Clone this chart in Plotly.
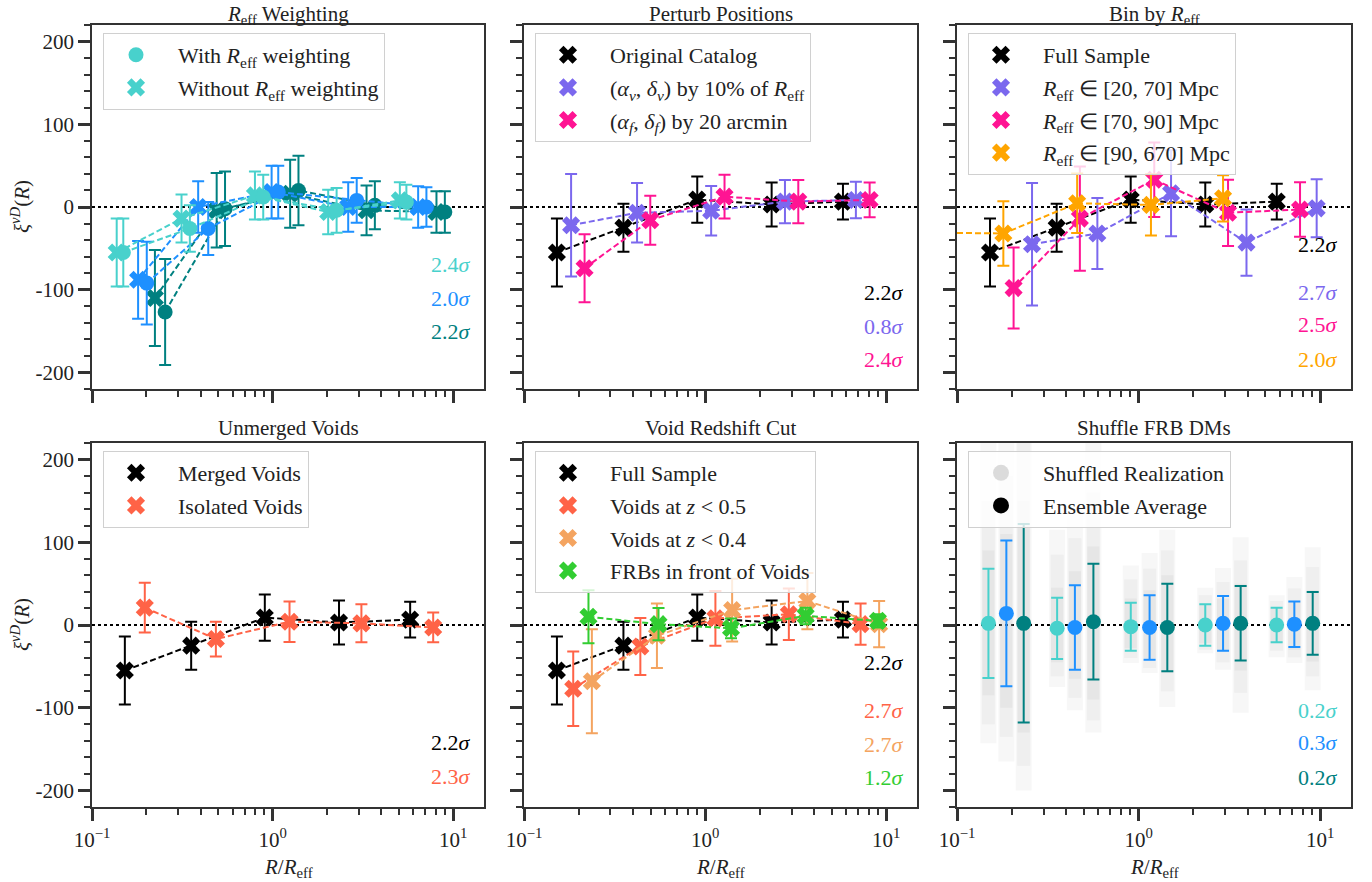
import plotly.graph_objects as go

W, H = 1372, 882
FONT = "Liberation Serif"

# ---------------- colours ----------------
TURQ = "#48D1CC"
BLUE = "#1E90FF"
TEAL = "#008080"
PURPLE = "#7B68EE"
PINK = "#FF1493"
ORANGE = "#FFA500"
TOMATO = "#FF6347"
SANDY = "#F4A460"
GREEN = "#32CD32"
BLACK = "#000000"

# ---------------- data ----------------
# shared full sample / original catalogue
full_x = [0.152, 0.354, 0.905, 2.33, 5.77]
full_y = [-55, -25, 9, 3, 6.5]
full_err = [41, 29, 28, 26.5, 21.5]

# Panel 1: R_eff weighting (circles = with weighting, X = without)
w_turq_x = [0.149, 0.348, 0.887, 2.26, 5.5]
w_turq_y = [-55, -26, 12, -4, 6]
w_turq_err = [41, 28, 27, 27, 21]
w_blue_x = [0.201, 0.440, 1.074, 2.92, 7.1]
w_blue_y = [-92, -26, 18, 8, 0]
w_blue_err = [50, 32, 32, 27, 24]
w_teal_x = [0.254, 0.545, 1.39, 3.68, 8.98]
w_teal_y = [-127, -2, 20, 2, -6]
w_teal_err = [64, 45, 42, 29, 25]
nw_turq_x = [0.137, 0.313, 0.798, 2.03, 5.06]
nw_turq_y = [-55, -14, 14, -6, 8]
nw_turq_err = [41, 29, 29, 27, 22]
nw_blue_x = [0.180, 0.387, 0.987, 2.62, 6.39]
nw_blue_y = [-88, 0, 18, 0, 0]
nw_blue_err = [47, 31, 32, 30, 25]
nw_teal_x = [0.223, 0.490, 1.25, 3.31, 8.07]
nw_teal_y = [-110, -4, 16, -4, -6]
nw_teal_err = [58, 45, 41, 30, 25]

# Panel 2: perturb positions
pv_x = [0.182, 0.421, 1.08, 2.76, 6.8]
pv_y = [-22, -7, -4.5, 6.5, 8.5]
pv_err = [62, 36, 30, 26, 22]
pf_x = [0.216, 0.498, 1.28, 3.27, 8.1]
pf_y = [-74, -16, 12.5, 6.5, 8.5]
pf_err = [41, 29.5, 26.5, 26, 21]

# Panel 3: bin by R_eff
b1_x = [0.259, 0.593, 1.51, 3.93, 9.57]
b1_y = [-45, -32, 16.5, -43, -1.6]
b1_err = [74, 43, 52, 40, 35]
b2_x = [0.205, 0.475, 1.22, 3.11, 7.75]
b2_y = [-98, -14, 33, -7, -3]
b2_err = [49, 63, 45, 40, 33]
b3_x = [0.071, 0.180, 0.459, 1.17, 2.92]
b3_y = [-31, -32, 4.5, 2.5, 10.5]
b3_err = [35, 39, 36, 37, 28]

# Panel 4: unmerged voids
iso_x = [0.196, 0.485, 1.24, 3.10, 7.74]
iso_y = [21, -17, 4, 2, -3]
iso_err = [30, 21, 24.5, 23, 18]

# Panel 5: void redshift cut
z5_x = [0.187, 0.439, 1.14, 2.90, 7.22]
z5_y = [-77, -26, 8, 13, 1]
z5_err = [45, 34.5, 33, 31, 25]
z4_x = [0.237, 0.542, 1.41, 3.67, 9.14]
z4_y = [-68, -13, 18, 29, 1]
z4_err = [63, 39, 38, 34, 28]
fr_x = [0.227, 0.553, 1.39, 3.59, 9.0]
fr_y = [10, 1, -4, 11, 5]
fr_err = [32, 19.5, 12, 10, 8]

# Panel 6: shuffle FRB DMs (ensemble averages)
s_turq_x = [0.149, 0.356, 0.906, 2.33, 5.76]
s_turq_y = [2, -4, -2, 0, 0]
s_turq_err = [66, 37, 29, 25, 21]
s_blue_x = [0.187, 0.446, 1.15, 2.92, 7.21]
s_blue_y = [14, -3, -3, 2, 1]
s_blue_err = [88, 51, 39, 33, 27.5]
s_teal_x = [0.233, 0.564, 1.44, 3.65, 9.1]
s_teal_y = [2, 4, -3, 2, 2]
s_teal_err = [120, 70, 53, 45, 38]
# extent of the cloud of shuffled realizations (outer, middle and dense core)
cloud_hi_turq = [230, 115, 72, 45, 36]
cloud_lo_turq = [-143, -75, -46, -34, -39]
cloud_hi_blue = [230, 139, 87, 69, 58]
cloud_lo_blue = [-165, -103, -58, -54, -46]
cloud_hi_teal = [230, 230, 115, 106, 94]
cloud_lo_teal = [-200, -130, -99, -106, -79]
mid_hi_turq = [150, 85, 55, 36, 29]
mid_lo_turq = [-120, -62, -40, -30, -31]
mid_hi_blue = [180, 105, 68, 52, 44]
mid_lo_blue = [-135, -88, -52, -45, -39]
mid_hi_teal = [220, 160, 90, 78, 70]
mid_lo_teal = [-170, -115, -80, -82, -62]
core_hi_turq = [90, 45, 32, 24, 20]
core_lo_turq = [-85, -45, -28, -22, -22]
core_hi_blue = [110, 65, 42, 32, 28]
core_lo_blue = [-100, -65, -40, -32, -30]
core_hi_teal = [150, 95, 60, 50, 42]
core_lo_teal = [-130, -90, -58, -55, -44]

titles = ["<i>R</i><sub>eff</sub> Weighting", "Perturb Positions", "Bin by <i>R</i><sub>eff</sub>",
          "Unmerged Voids", "Void Redshift Cut", "Shuffle FRB DMs"]

sigma_labels = [
    [("2.4", TURQ), ("2.0", BLUE), ("2.2", TEAL)],
    [("2.2", BLACK), ("0.8", PURPLE), ("2.4", PINK)],
    [("2.2", BLACK), ("2.7", PURPLE), ("2.5", PINK), ("2.0", ORANGE)],
    [("2.2", BLACK), ("2.3", TOMATO)],
    [("2.2", BLACK), ("2.7", TOMATO), ("2.7", SANDY), ("1.2", GREEN)],
    [("0.2", TURQ), ("0.3", BLUE), ("0.2", TEAL)],
]
# vertical positions (axis fraction) of the significance labels
sigma_pos = [
    [0.343, 0.25, 0.157],
    [0.264, 0.173, 0.082],
    [0.396, 0.266, 0.176, 0.082],
    [0.176, 0.085],
    [0.396, 0.266, 0.173, 0.082],
    [0.266, 0.176, 0.082],
]

# ---------------- geometry ----------------
col_px = [(92, 484), (524, 917), (957, 1351)]
row_px = [(25, 389), (443, 807)]

fig = go.Figure()
SP = "\u00a0\u00a0\u00a0\u00a0"


def ax_ids(i):
    s = "" if i == 1 else str(i)
    return "x" + s, "y" + s, ("legend" if i == 1 else "legend" + str(i))


def add_series(i, x, y, err, color, symbol, name=None, dashed=True, rank=None):
    xa, ya, lg = ax_ids(i)
    if dashed:
        fig.add_trace(go.Scatter(x=x, y=y, mode="lines", xaxis=xa, yaxis=ya,
                                 line=dict(color=color, width=2, dash="6px,3px"),
                                 showlegend=False, hoverinfo="skip"))
    fig.add_trace(go.Scatter(
        x=x, y=y, mode="markers", xaxis=xa, yaxis=ya,
        marker=dict(symbol=symbol, size=15 if symbol == "circle" else 16, color=color,
                    line=dict(width=0)),
        error_y=dict(type="data", array=err, visible=True, color=color, thickness=2, width=6),
        name=(SP + name) if name else "", showlegend=name is not None, legend=lg,
        legendgroup=(f"g{i}_{rank}" if name else None), legendrank=rank if rank else 1000))


# Panel 1
add_series(1, nw_teal_x, nw_teal_y, nw_teal_err, TEAL, "x")
add_series(1, w_teal_x, w_teal_y, w_teal_err, TEAL, "circle")
add_series(1, nw_blue_x, nw_blue_y, nw_blue_err, BLUE, "x")
add_series(1, w_blue_x, w_blue_y, w_blue_err, BLUE, "circle")
add_series(1, nw_turq_x, nw_turq_y, nw_turq_err, TURQ, "x",
           "Without <i>R</i><sub>eff</sub> weighting", rank=2)
add_series(1, w_turq_x, w_turq_y, w_turq_err, TURQ, "circle",
           "With <i>R</i><sub>eff</sub> weighting", rank=1)

# Panel 2
add_series(2, full_x, full_y, full_err, BLACK, "x", "Original Catalog", rank=1)
add_series(2, pv_x, pv_y, pv_err, PURPLE, "x",
           "(<i>α<sub>v</sub></i>, <i>δ<sub>v</sub></i>) by 10% of <i>R</i><sub>eff</sub>", rank=2)
add_series(2, pf_x, pf_y, pf_err, PINK, "x",
           "(<i>α<sub>f</sub></i>, <i>δ<sub>f</sub></i>) by 20 arcmin", rank=3)

# Panel 3
add_series(3, full_x, full_y, full_err, BLACK, "x", "Full Sample", rank=1)
add_series(3, b1_x, b1_y, b1_err, PURPLE, "x", "<i>R</i><sub>eff</sub> ∈ [20, 70] Mpc", rank=2)
add_series(3, b2_x, b2_y, b2_err, PINK, "x", "<i>R</i><sub>eff</sub> ∈ [70, 90] Mpc", rank=3)
add_series(3, b3_x, b3_y, b3_err, ORANGE, "x", "<i>R</i><sub>eff</sub> ∈ [90, 670] Mpc", rank=4)

# Panel 4
add_series(4, full_x, full_y, full_err, BLACK, "x", "Merged Voids", rank=1)
add_series(4, iso_x, iso_y, iso_err, TOMATO, "x", "Isolated Voids", rank=2)

# Panel 5
add_series(5, full_x, full_y, full_err, BLACK, "x", "Full Sample", rank=1)
add_series(5, z5_x, z5_y, z5_err, TOMATO, "x", "Voids at <i>z</i> < 0.5", rank=2)
add_series(5, z4_x, z4_y, z4_err, SANDY, "x", "Voids at <i>z</i> < 0.4", rank=3)
add_series(5, fr_x, fr_y, fr_err, GREEN, "x", "FRBs in front of Voids", rank=4)

# Panel 6: clouds of shuffled realizations
for xs, levels in [
    (s_turq_x, [(cloud_hi_turq, cloud_lo_turq), (mid_hi_turq, mid_lo_turq), (core_hi_turq, core_lo_turq)]),
    (s_blue_x, [(cloud_hi_blue, cloud_lo_blue), (mid_hi_blue, mid_lo_blue), (core_hi_blue, core_lo_blue)]),
    (s_teal_x, [(cloud_hi_teal, cloud_lo_teal), (mid_hi_teal, mid_lo_teal), (core_hi_teal, core_lo_teal)]),
]:
    for (h_, l_), alpha, thick in zip(levels, [0.12, 0.14, 0.18], [16, 13, 12]):
        mid = [(a + b) / 2 for a, b in zip(h_, l_)]
        half = [(a - b) / 2 for a, b in zip(h_, l_)]
        fig.add_trace(go.Scatter(
            x=xs, y=mid, mode="markers", xaxis="x6", yaxis="y6",
            marker=dict(size=1, color="rgba(0,0,0,0)"),
            error_y=dict(type="data", array=half, visible=True,
                         color=f"rgba(190,190,190,{alpha})", thickness=thick, width=0),
            showlegend=False, hoverinfo="skip"))

fig.add_trace(go.Scatter(
    x=[None], y=[None], mode="markers", xaxis="x6", yaxis="y6",
    marker=dict(symbol="circle", size=16, color="rgba(215,215,215,0.9)"),
    name=SP + "Shuffled Realization", legend="legend6", legendgroup="g6_1", legendrank=1))
fig.add_trace(go.Scatter(
    x=[None], y=[None], mode="markers", xaxis="x6", yaxis="y6",
    marker=dict(symbol="circle", size=16, color=BLACK),
    name=SP + "Ensemble Average", legend="legend6", legendgroup="g6_2", legendrank=2))

add_series(6, s_turq_x, s_turq_y, s_turq_err, TURQ, "circle", dashed=False)
add_series(6, s_blue_x, s_blue_y, s_blue_err, BLUE, "circle", dashed=False)
add_series(6, s_teal_x, s_teal_y, s_teal_err, TEAL, "circle", dashed=False)

# ---------------- axes ----------------
minor_x = [v * m for v in (0.1, 1, 10) for m in range(2, 10)]
layout = dict(width=W, height=H, margin=dict(l=0, r=0, t=0, b=0, pad=0, autoexpand=False),
              paper_bgcolor="white", plot_bgcolor="white",
              font=dict(family=FONT, size=21, color="#222"), showlegend=True)
annotations = []
shapes = []
for i in range(1, 7):
    r, c = (i - 1) // 3, (i - 1) % 3
    x0, x1 = col_px[c]
    y0, y1 = row_px[r]
    s = "" if i == 1 else str(i)
    xa = dict(domain=[x0 / W, x1 / W], anchor="y" + s, type="log", range=[-1, 1.17],
              showline=True, linecolor="#333", linewidth=1.6, mirror=True,
              ticks="outside", ticklen=12, tickwidth=2.5, tickcolor="#333",
              tickvals=[0.1, 1, 10], ticktext=["10<sup>−1</sup>", "10<sup>0</sup>", "10<sup>1</sup>"],
              showticklabels=(r == 1), showgrid=False, zeroline=False, ticklabelstandoff=1,
              tickfont=dict(size=21, color="#222"),
              minor=dict(ticks="outside", ticklen=6, tickwidth=1.5, tickcolor="#333",
                         tickvals=minor_x, showgrid=False))
    ya = dict(domain=[1 - y1 / H, 1 - y0 / H], anchor="x" + s, range=[-220, 220],
              showline=True, linecolor="#333", linewidth=1.6, mirror=True,
              ticks="outside", ticklen=12, tickwidth=2.5, tickcolor="#333",
              tickvals=[-200, -100, 0, 100, 200], ticktext=["-200", "-100", "0", "100", "200"],
              showticklabels=(c == 0), showgrid=False, zeroline=False,
              tickfont=dict(size=21, color="#222"),
              minor=dict(ticks="outside", ticklen=6, tickwidth=1.5, tickcolor="#333",
                         dtick=20, showgrid=False))
    layout["xaxis" + s] = xa
    layout["yaxis" + s] = ya
    lg = "legend" if i == 1 else "legend" + str(i)
    layout[lg] = dict(x=(x0 + 11) / W, y=1 - (y0 + 8) / H, xanchor="left", yanchor="top",
                      bgcolor="rgba(255,255,255,0.8)", bordercolor="#d0d0d0", borderwidth=1,
                      font=dict(family=FONT, size=22, color="#222"), tracegroupgap=1,
                      indentation=12, itemsizing="trace")
    shapes.append(dict(type="line", xref=f"x{s} domain", yref="y" + s, x0=0, x1=1, y0=0, y1=0,
                       line=dict(color="black", width=1.8, dash="dot"), layer="below"))
    if r == 0:
        annotations.append(dict(text=titles[i - 1], xref=f"x{s} domain", yref="paper",
                                x=0.5, y=1, yanchor="top", showarrow=False,
                                font=dict(size=21, color="#222")))
    else:
        annotations.append(dict(text=titles[i - 1], xref=f"x{s} domain", yref=f"y{s} domain",
                                x=0.5, y=1, yanchor="bottom", yshift=1, showarrow=False,
                                font=dict(size=21, color="#222")))
    for (lab, colr), yp in zip(sigma_labels[i - 1], sigma_pos[i - 1]):
        annotations.append(dict(text=lab + "<i>σ</i>", xref=f"x{s} domain", yref=f"y{s} domain",
                                x=0.972, y=yp, xanchor="right", yanchor="middle", showarrow=False,
                                font=dict(size=22, color=colr)))
    if r == 1:
        annotations.append(dict(text="<i>R</i>/<i>R</i><sub>eff</sub>", xref=f"x{s} domain",
                                yref="paper", x=0.5, y=1 - 868 / H, yanchor="middle",
                                showarrow=False, font=dict(size=21, color="#222")))
    if c == 0:
        annotations.append(dict(text="<i>ξ</i><sup><i>νD</i></sup>(<i>R</i>)", xref="paper",
                                yref=f"y{s} domain", x=20 / W, y=0.5, textangle=-90,
                                xanchor="center", yanchor="middle", showarrow=False,
                                font=dict(size=21, color="#222")))

layout["annotations"] = annotations
layout["shapes"] = shapes
fig.update_layout(**layout)
fig.write_html("out.html", config={"displayModeBar": False},
               post_script="document.body.style.margin='0px';document.body.style.overflow='hidden';")
